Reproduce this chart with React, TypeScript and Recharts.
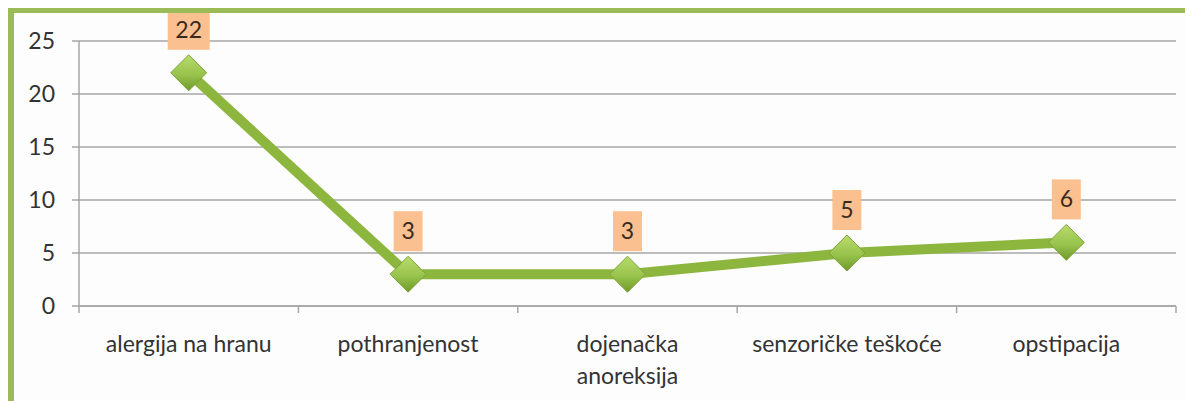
import { LineChart, Line, XAxis, YAxis, CartesianGrid } from 'recharts'

const categories = ['alergija na hranu', 'pothranjenost', 'dojenačka\nanoreksija', 'senzoričke teškoće', 'opstipacija']
const counts = [22, 3, 3, 5, 6]
const yTicks = [0, 5, 10, 15, 20, 25]
const boundaryTicks = [0, 1, 2, 3, 4, 5]

const data = categories.map((name, i) => ({ name, count: counts[i] }))

const FONT = 'Lato, sans-serif'
const GRID = '#a6a6a6'

const CategoryTick = (props: any) => {
    const { x, y, payload } = props
    const lines = String(payload.value).split('\n')
    return (
        <text x={x} y={y + 43} textAnchor="middle" fill="#333" fontSize={23} fontFamily={FONT}>
            {lines.map((l, i) => (
                <tspan key={i} x={x} dy={i === 0 ? 0 : 32}>{l}</tspan>
            ))}
        </text>
    )
}

const Diamond = (props: any) => {
    const { cx, cy, index } = props
    if (cx == null || cy == null) return null
    const r = 18
    return (
        <path
            key={`d-${index}`}
            d={`M${cx},${cy - r} L${cx + r},${cy} L${cx},${cy + r} L${cx - r},${cy} Z`}
            fill="url(#diamondFill)"
            stroke="#7ea33a"
            strokeWidth={1}
        />
    )
}

const ValueLabel = (props: any) => {
    const { x, y, value, index } = props
    const w = String(value).length > 1 ? 42 : 29
    return (
        <g key={`l-${index}`}>
            <rect x={x - w / 2} y={y - 63} width={w} height={40} fill="#fac090" />
            <text x={x} y={y - 35} textAnchor="middle" fill="#3a2a1e" fontSize={23} fontFamily={FONT}>
                {value}
            </text>
        </g>
    )
}

const EmptyTick = () => <text />

export default function App() {
    return (
        <div
            style={{
                width: 1179,
                height: 388,
                borderLeft: '6px solid #9bbb59',
                borderTop: '5px solid #9bbb59',
                background: '#fdfdfd',
            }}
        >
            <LineChart width={1179} height={388} data={data} margin={{ top: 28, right: 17, left: 0, bottom: 0 }}>
                <defs>
                    <linearGradient id="diamondFill" x1="0" y1="0" x2="0" y2="1">
                        <stop offset="0%" stopColor="#b9dc6c" />
                        <stop offset="55%" stopColor="#98c34c" />
                        <stop offset="100%" stopColor="#6f9a2c" />
                    </linearGradient>
                </defs>
                <CartesianGrid xAxisId="cat" vertical={false} stroke={GRID} strokeWidth={1.5} />
                <XAxis
                    xAxisId="bounds"
                    type="number"
                    dataKey={() => 0}
                    domain={[0, 5]}
                    ticks={boundaryTicks}
                    allowDataOverflow
                    height={1}
                    tickSize={7}
                    tick={<EmptyTick />}
                    stroke={GRID}
                    strokeWidth={1.5}
                />
                <XAxis
                    xAxisId="cat"
                    dataKey="name"
                    scale="band"
                    height={94}
                    axisLine={false}
                    tickLine={false}
                    tickSize={0}
                    tick={<CategoryTick />}
                    interval={0}
                />
                <YAxis
                    width={65}
                    domain={[0, 25]}
                    ticks={yTicks}
                    tickSize={7}
                    tickMargin={17}
                    stroke={GRID}
                    strokeWidth={1.5}
                    tick={{ fill: '#333', fontSize: 23, fontFamily: FONT }}
                />
                <Line
                    xAxisId="cat"
                    dataKey="count"
                    stroke="#8db63f"
                    strokeWidth={10}
                    dot={<Diamond />}
                    activeDot={false}
                    label={<ValueLabel />}
                    isAnimationActive={false}
                />
            </LineChart>
        </div>
    )
}
